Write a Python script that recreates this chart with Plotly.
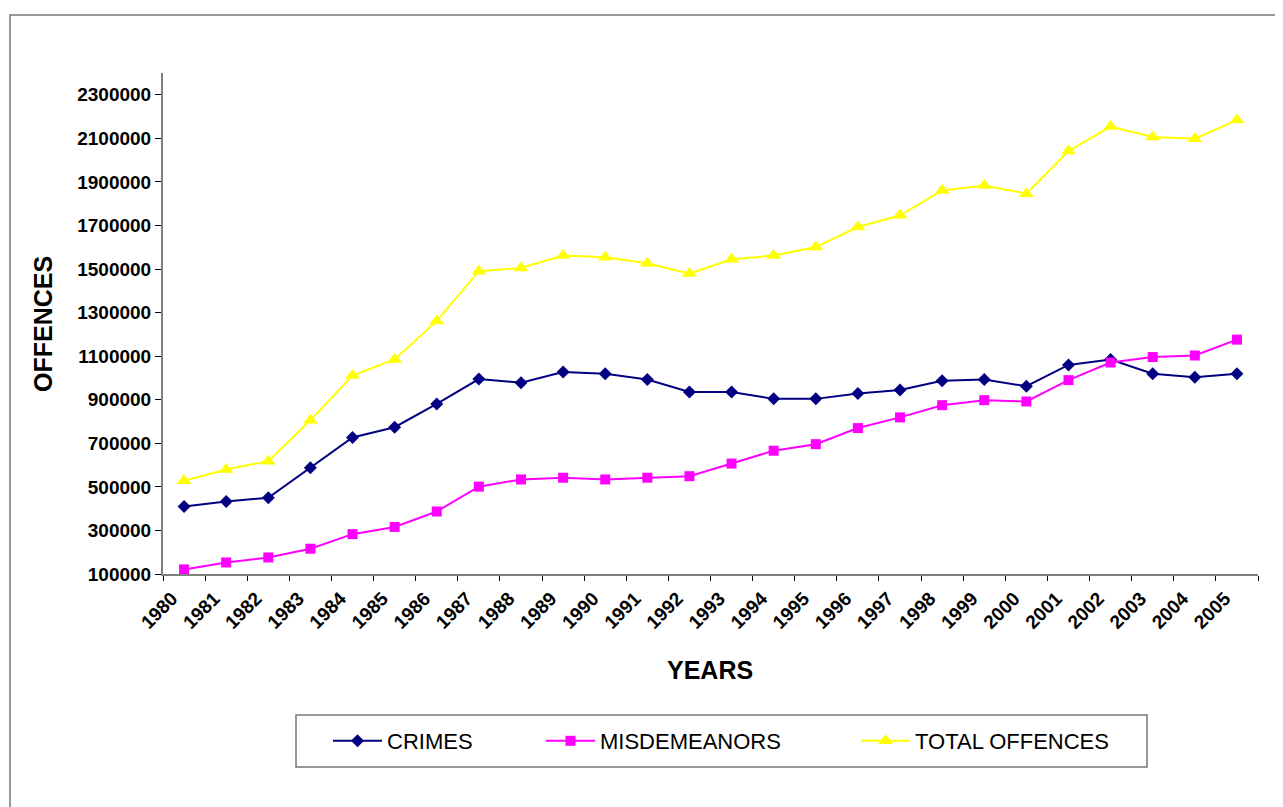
import plotly.graph_objects as go

years = [str(y) for y in range(1980, 2006)]
crimes = [410000, 433000, 450000, 588000, 727000, 774000, 881000, 995000, 978000, 1027000,
          1019000, 993000, 936000, 936000, 904000, 904000, 929000, 945000, 987000, 993000,
          962000, 1060000, 1085000, 1019000, 1003000, 1019000]
misdemeanors = [121000, 153000, 176000, 216000, 283000, 316000, 387000, 501000, 534000, 542000,
                534000, 542000, 549000, 607000, 666000, 696000, 770000, 819000, 875000, 898000,
                892000, 990000, 1071000, 1096000, 1103000, 1176000]
total_offences = [528000, 580000, 618000, 806000, 1011000, 1085000, 1262000, 1490000, 1505000, 1562000,
                  1554000, 1527000, 1479000, 1545000, 1562000, 1601000, 1693000, 1747000, 1861000, 1884000,
                  1846000, 2042000, 2154000, 2106000, 2098000, 2184000]
y_ticks = list(range(100000, 2300001, 200000))

FONT = "Liberation Sans, Arial, sans-serif"

OFF = 8  # page body margin
W, H = 1283 - OFF, 807 - OFF
PL, PT, PR, PB = 163, 73, 1258, 574  # plot area in page pixels
PW, PH = PR - PL, PB - PT
L, T = PL - OFF, PT - OFF
R, B = W - (PR - OFF), H - (PB - OFF)

def px(x):
    return (x - PL) / PW

def py(y):
    return (PB - y) / PH

fig = go.Figure()
fig.add_trace(go.Scatter(x=years, y=crimes, name="CRIMES", mode="lines+markers",
                         line=dict(color="#000080", width=2),
                         marker=dict(symbol="diamond", size=10, color="#000080"),
                         legend="legend"))
fig.add_trace(go.Scatter(x=years, y=misdemeanors, name="MISDEMEANORS", mode="lines+markers",
                         line=dict(color="#FF00FF", width=2),
                         marker=dict(symbol="square", size=10, color="#FF00FF"),
                         legend="legend2"))
fig.add_trace(go.Scatter(x=years, y=total_offences, name="TOTAL OFFENCES", mode="lines+markers",
                         line=dict(color="#FFFF00", width=2),
                         marker=dict(symbol="triangle-up", size=13, color="#FFFF00"),
                         legend="legend3"))

leg_common = dict(orientation="h", yanchor="middle", xanchor="left", y=py(741),
                  font=dict(family=FONT, size=22, color="#000000"),
                  bgcolor="rgba(0,0,0,0)", borderwidth=0, itemwidth=49)

fig.update_layout(
    width=W, height=H,
    margin=dict(l=L, r=R, t=T, b=B, pad=0),
    paper_bgcolor="white", plot_bgcolor="white",
    showlegend=True,
    legend=dict(x=px(328), **leg_common),
    legend2=dict(x=px(541), **leg_common),
    legend3=dict(x=px(856), **leg_common),
    xaxis=dict(type="category", tickson="boundaries", ticks="outside", ticklen=5,
               tickcolor="#000000", showline=True, linecolor="#808080", linewidth=2,
               showgrid=False, zeroline=False, tickangle=-45,
               ticklabelshift=-12, ticklabelstandoff=4,
               tickfont=dict(family=FONT, size=19, color="#000000", weight="bold"),
               range=[-0.5, len(years) - 0.5]),
    yaxis=dict(range=[100000, 2400000], tickvals=y_ticks, ticktext=[str(v) for v in y_ticks],
               ticks="outside", ticklen=6, tickcolor="#000000", showline=True,
               linecolor="#808080", linewidth=2, showgrid=False, zeroline=False,
               tickfont=dict(family=FONT, size=19, color="#000000", weight="bold")),
    annotations=[
        dict(text="YEARS", x=px(710), y=py(670), xref="paper", yref="paper",
             showarrow=False, font=dict(family=FONT, size=25, color="#000000", weight="bold"),
             xanchor="center", yanchor="middle"),
        dict(text="OFFENCES", x=px(43), y=py(324), xref="paper", yref="paper",
             showarrow=False, textangle=-90,
             font=dict(family=FONT, size=25, color="#000000", weight="bold"),
             xanchor="center", yanchor="middle"),
    ],
    shapes=[
        dict(type="rect", xref="paper", yref="paper", x0=px(10), x1=px(1300),
             y0=py(830), y1=py(15), line=dict(color="#777777", width=1.5), layer="below"),
        dict(type="rect", xref="paper", yref="paper", x0=px(296), x1=px(1147),
             y0=py(767), y1=py(715), line=dict(color="#777777", width=1.5), layer="below"),
    ],
)

fig.write_html("out.html")
